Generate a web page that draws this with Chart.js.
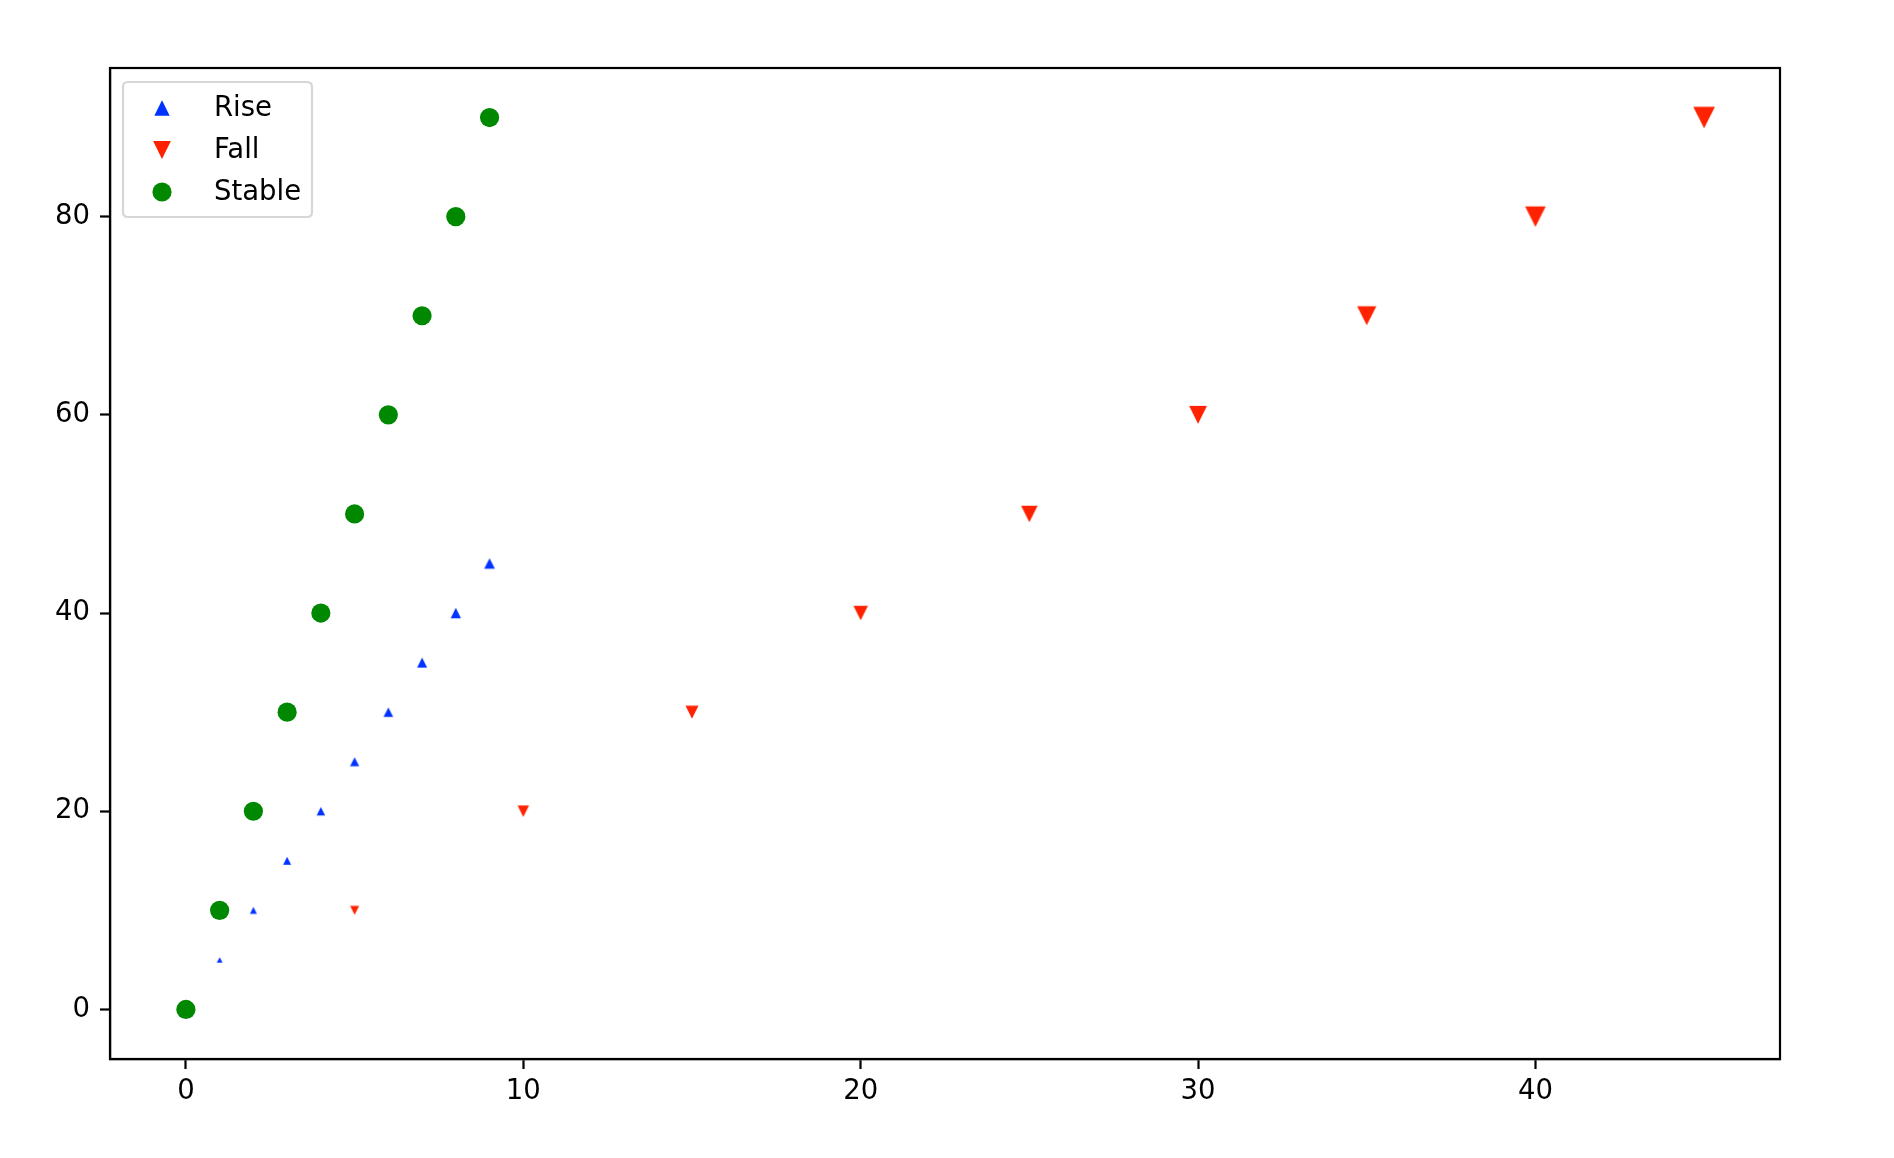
<!DOCTYPE html>
<html>
<head>
<meta charset="utf-8">
<script src="https://cdn.jsdelivr.net/npm/chart.js@4"></script>
<style>
  html, body { margin: 0; padding: 0; background: #ffffff; }
  #wrap { width: 1894px; height: 1158px; }
</style>
</head>
<body>
<div id="wrap"><canvas id="c" width="1894" height="1158"></canvas></div>
<script>
// ---- data ----
const riseX = [1, 2, 3, 4, 5, 6, 7, 8, 9];
const riseY = [5, 10, 15, 20, 25, 30, 35, 40, 45];
const fallX = [5, 10, 15, 20, 25, 30, 35, 40, 45];
const fallY = [10, 20, 30, 40, 50, 60, 70, 80, 90];
const stableX = [0, 1, 2, 3, 4, 5, 6, 7, 8, 9];
const stableY = [0, 10, 20, 30, 40, 50, 60, 70, 80, 90];
const seriesLabels = ['Rise', 'Fall', 'Stable'];
const xTicks = [0, 10, 20, 30, 40];
const yTicks = [0, 20, 40, 60, 80];

// ---- marker sizes in px (styling; matplotlib-like triangles, width == height) ----
const riseMarkerSize = [5.7, 7, 8, 8.5, 9.2, 9.6, 10, 10.3, 10.7];
const fallMarkerSize = [9, 11.5, 13, 14.5, 16.5, 17.8, 19.2, 20.6, 21.6];
const stableRadius = 9.6;

const COLORS = { rise: '#0033ff', fall: '#ff2200', stable: '#008800' };
const FONT = { family: '"DejaVu Sans", sans-serif', size: 27.5 };

function pts(xs, ys) { return xs.map((x, i) => ({ x: x, y: ys[i] })); }

function triPath(ctx, cx, cy, h, down) {
  ctx.beginPath();
  if (down) {
    ctx.moveTo(cx - h, cy - h);
    ctx.lineTo(cx + h, cy - h);
    ctx.lineTo(cx, cy + h);
  } else {
    ctx.moveTo(cx, cy - h);
    ctx.lineTo(cx + h, cy + h);
    ctx.lineTo(cx - h, cy + h);
  }
  ctx.closePath();
}

// triangle marker image centred on its bounding box (as matplotlib does)
function triImage(size, color, down) {
  const c = document.createElement('canvas');
  const dim = 2 * Math.ceil(size / 2 + 1);
  c.width = dim; c.height = dim;
  const g = c.getContext('2d');
  g.fillStyle = color;
  triPath(g, dim / 2, dim / 2, size / 2, down);
  g.fill();
  return c;
}

const riseStyles = riseMarkerSize.map(s => triImage(s, COLORS.rise, false));
const fallStyles = fallMarkerSize.map(s => triImage(s, COLORS.fall, true));

// full frame around plot area
const framePlugin = {
  id: 'frame',
  afterDraw(chart) {
    const a = chart.chartArea, ctx = chart.ctx;
    ctx.save();
    ctx.strokeStyle = '#000';
    ctx.lineWidth = 2.2;
    ctx.strokeRect(a.left, a.top, a.right - a.left, a.bottom - a.top);
    ctx.restore();
  }
};

const legendMarkers = [
  { kind: 'up', half: 7.7 },
  { kind: 'down', half: 8.9 },
  { kind: 'circle', half: 9.6 }
];

// matplotlib-like legend inside the axes, upper left
const legendPlugin = {
  id: 'innerLegend',
  afterDraw(chart) {
    const a = chart.chartArea, ctx = chart.ctx;
    const bx = a.left + 13, by = a.top + 14, bw = 189, bh = 135, rr = 5;
    ctx.save();
    ctx.beginPath();
    ctx.moveTo(bx + rr, by);
    ctx.lineTo(bx + bw - rr, by);
    ctx.quadraticCurveTo(bx + bw, by, bx + bw, by + rr);
    ctx.lineTo(bx + bw, by + bh - rr);
    ctx.quadraticCurveTo(bx + bw, by + bh, bx + bw - rr, by + bh);
    ctx.lineTo(bx + rr, by + bh);
    ctx.quadraticCurveTo(bx, by + bh, bx, by + bh - rr);
    ctx.lineTo(bx, by + rr);
    ctx.quadraticCurveTo(bx, by, bx + rr, by);
    ctx.closePath();
    ctx.fillStyle = 'rgba(255,255,255,0.8)';
    ctx.fill();
    ctx.strokeStyle = '#d6d6d6';
    ctx.lineWidth = 2.2;
    ctx.stroke();
    ctx.font = FONT.size + 'px ' + FONT.family;
    ctx.textBaseline = 'middle';
    ctx.textAlign = 'left';
    chart.data.datasets.forEach((ds, i) => {
      const cy = a.top + 40 + i * 42;
      const mx = a.left + 52;
      const m = legendMarkers[i];
      ctx.fillStyle = ds.backgroundColor;
      if (m.kind === 'circle') {
        ctx.beginPath();
        ctx.arc(mx, cy, m.half, 0, Math.PI * 2);
      } else {
        triPath(ctx, mx, cy, m.half, m.kind === 'down');
      }
      ctx.fill();
      ctx.fillStyle = '#000';
      ctx.fillText(ds.label, a.left + 104, cy + 1);
    });
    ctx.restore();
  }
};

const ctx = document.getElementById('c').getContext('2d');
new Chart(ctx, {
  type: 'scatter',
  data: {
    datasets: [
      {
        label: seriesLabels[0],
        data: pts(riseX, riseY),
        pointStyle: riseStyles,
        backgroundColor: COLORS.rise,
        borderColor: COLORS.rise,
        borderWidth: 0,
        pointRadius: riseMarkerSize.map(s => s / 2),
        pointHoverRadius: riseMarkerSize.map(s => s / 2),
        order: 3
      },
      {
        label: seriesLabels[1],
        data: pts(fallX, fallY),
        pointStyle: fallStyles,
        backgroundColor: COLORS.fall,
        borderColor: COLORS.fall,
        borderWidth: 0,
        pointRadius: fallMarkerSize.map(s => s / 2),
        pointHoverRadius: fallMarkerSize.map(s => s / 2),
        order: 2
      },
      {
        label: seriesLabels[2],
        data: pts(stableX, stableY),
        pointStyle: 'circle',
        backgroundColor: COLORS.stable,
        borderColor: COLORS.stable,
        borderWidth: 0,
        pointRadius: stableRadius,
        pointHoverRadius: stableRadius,
        order: 1
      }
    ]
  },
  options: {
    responsive: false,
    animation: false,
    devicePixelRatio: 1,
    layout: { padding: { top: 68, right: 114, left: 0, bottom: 0 } },
    plugins: {
      legend: { display: false },
      tooltip: { enabled: false },
      title: { display: false }
    },
    scales: {
      x: {
        type: 'linear',
        min: -2.25,
        max: 47.25,
        afterBuildTicks: (s) => { s.ticks = xTicks.map(v => ({ value: v })); },
        afterFit: (s) => { s.height = 99; },
        grid: { drawOnChartArea: false, drawTicks: true, tickLength: 10, tickWidth: 2.2, tickColor: '#000' },
        border: { display: true, color: '#000', width: 2.2 },
        ticks: { color: '#000', font: FONT, padding: 6, maxRotation: 0 }
      },
      y: {
        type: 'linear',
        min: -5,
        max: 95,
        afterBuildTicks: (s) => { s.ticks = yTicks.map(v => ({ value: v })); },
        afterFit: (s) => { s.width = 110; },
        grid: { drawOnChartArea: false, drawTicks: true, tickLength: 10, tickWidth: 2.2, tickColor: '#000' },
        border: { display: true, color: '#000', width: 2.2 },
        ticks: { color: '#000', font: FONT, padding: 10 }
      }
    }
  },
  plugins: [framePlugin, legendPlugin]
});
</script>
</body>
</html>
